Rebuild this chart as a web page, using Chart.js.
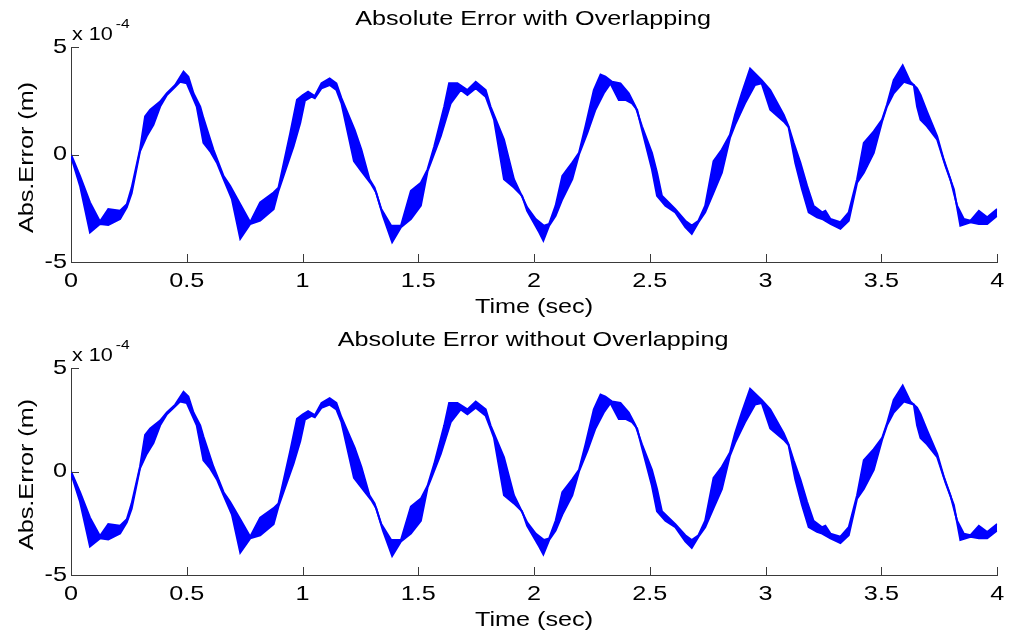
<!DOCTYPE html>
<html>
<head>
<meta charset="utf-8">
<script src="https://cdn.jsdelivr.net/npm/chart.js@4.4.1/dist/chart.umd.min.js"></script>
<style>
  html, body { margin: 0; padding: 0; background: #ffffff; }
  #wrap { position: relative; width: 1010px; height: 634px; overflow: hidden; }
  canvas { position: absolute; left: 0; }
</style>
</head>
<body>
<div id="wrap">
  <canvas id="c1" width="1010" height="317" style="top:0px"></canvas>
  <canvas id="c2" width="1010" height="317" style="top:317px"></canvas>
</div>
<script>
// ---------- data (values in units of 1e-4 m) ----------
const upperT = [0.000,0.039,0.082,0.125,0.161,0.212,0.241,0.262,0.298,0.320,0.342,0.385,0.414,0.450,0.486,0.507,0.529,0.558,0.572,0.615,0.659,0.687,0.731,0.774,0.817,0.875,0.896,0.947,0.976,
  1.000,1.024,1.053,1.082,1.117,1.146,1.168,1.225,1.254,1.289,1.311,1.340,1.383,1.425,1.468,1.511,1.540,1.569,1.612,1.633,1.669,1.712,1.748,1.791,1.812,1.870,1.913,1.970,
  2.007,2.043,2.065,2.093,2.122,2.165,2.194,2.222,2.258,2.287,2.308,2.337,2.373,2.409,2.438,2.466,2.509,2.531,2.552,2.610,2.653,2.681,2.710,2.739,2.775,2.811,2.846,2.868,2.897,2.933,2.983,
  3.020,3.078,3.099,3.121,3.150,3.179,3.207,3.244,3.258,3.280,3.323,3.359,3.395,3.424,3.467,3.503,3.524,3.553,3.592,3.625,3.654,3.669,3.697,3.741,3.769,3.798,3.827,3.856,3.885,3.921,3.957,4.000];
const upperV = [0.00,-1.00,-2.23,-3.12,-2.54,-2.62,-2.31,-1.54,0.23,1.77,2.08,2.46,2.85,3.23,3.85,3.62,2.85,2.23,1.69,0.23,-1.00,-1.46,-2.31,-3.15,-2.23,-1.77,-1.54,1.00,2.54,
  2.75,2.92,2.72,3.31,3.54,3.31,2.62,1.15,0.23,-1.15,-1.54,-2.54,-3.31,-3.31,-1.69,-1.31,-0.69,0.38,2.23,3.31,3.31,3.00,3.38,3.00,2.23,0.69,-1.15,-2.46,
  -3.00,-3.31,-3.23,-2.38,-1.00,-0.38,0.08,1.31,3.00,3.72,3.62,3.38,3.31,2.85,2.23,1.31,0.08,-0.85,-1.92,-2.54,-3.08,-3.31,-3.08,-2.38,-0.31,0.23,0.92,1.85,2.85,4.00,3.46,
  3.00,1.85,1.31,0.54,-0.38,-1.46,-2.38,-2.69,-2.62,-3.00,-3.15,-2.69,-1.15,0.54,1.08,1.62,2.31,3.46,4.15,3.38,3.08,2.77,2.00,0.85,-0.23,-1.15,-2.38,-3.00,-3.08,-2.62,-2.92,-2.54];
const lowerT = [0.000,0.039,0.082,0.125,0.161,0.212,0.241,0.262,0.298,0.327,0.356,0.385,0.414,0.450,0.471,0.500,0.543,0.572,0.601,0.630,0.659,0.695,0.731,0.774,0.817,0.875,0.896,0.932,0.961,0.990,
  1.010,1.039,1.053,1.082,1.117,1.146,1.168,1.222,1.254,1.297,1.318,1.347,1.387,1.425,1.468,1.511,1.540,1.554,1.597,1.640,1.683,1.712,1.748,1.791,1.812,1.827,1.870,1.913,1.948,1.970,
  2.022,2.040,2.065,2.093,2.122,2.165,2.194,2.230,2.265,2.301,2.330,2.337,2.366,2.395,2.423,2.445,2.466,2.509,2.531,2.567,2.610,2.653,2.681,2.710,2.739,2.775,2.811,2.846,2.868,2.911,2.954,2.983,
  3.020,3.078,3.099,3.128,3.157,3.186,3.222,3.244,3.280,3.323,3.359,3.395,3.424,3.467,3.503,3.524,3.553,3.597,3.640,3.654,3.669,3.697,3.741,3.777,3.813,3.841,3.885,3.921,3.957,4.000];
const lowerV = [-0.08,-1.46,-3.62,-3.23,-3.28,-3.00,-2.46,-1.80,0.15,0.85,1.38,2.23,2.77,3.15,3.38,3.31,2.23,0.54,0.15,-0.38,-1.15,-2.08,-3.92,-3.23,-3.08,-2.54,-1.69,-0.54,0.38,1.46,
  2.50,2.69,2.62,3.08,3.23,3.00,2.38,-0.31,-0.77,-1.38,-1.77,-2.85,-4.08,-3.38,-3.00,-2.38,-0.77,-0.38,0.85,2.38,3.00,2.77,3.08,2.69,2.08,1.62,-1.15,-1.54,-1.92,-2.62,
  -3.62,-4.00,-3.31,-2.85,-2.08,-1.15,0.00,1.00,2.08,2.85,3.31,3.15,2.54,2.54,2.38,2.08,1.15,-0.69,-1.92,-2.38,-2.69,-3.38,-3.69,-3.15,-2.69,-1.77,-0.85,0.77,1.38,2.38,3.23,3.31,
  2.08,1.54,1.28,-0.38,-1.62,-2.69,-2.92,-3.00,-3.23,-3.46,-3.08,-1.31,-0.85,0.08,1.54,2.23,2.85,3.38,3.23,2.23,1.62,1.31,0.69,-0.54,-1.62,-3.31,-3.15,-3.23,-3.23,-2.85];

const xTickValues = [0, 0.5, 1, 1.5, 2, 2.5, 3, 3.5, 4];
const xTickLabels = ['0', '0.5', '1', '1.5', '2', '2.5', '3', '3.5', '4'];
const yTickValues = [-5, 0, 5];
const yTickLabels = ['-5', '0', '5'];

const panelTitles = ['Absolute Error with Overlapping', 'Absolute Error without Overlapping'];
const xAxisTitle = 'Time (sec)';
const yAxisTitle = 'Abs.Error (m)';
const expBase = 'x 10';
const expPower = '-4';

// ---------- style ----------
const FONT = '"Liberation Sans", Arial, Helvetica, sans-serif';
const BLUE = '#0000ff';
const AXIS = '#3a3a3a';
const SX = 1.2; // horizontal stretch of the reference's text

Chart.defaults.font.family = FONT;
Chart.defaults.color = '#000';

function makePanel(canvasId, title, areaTop, areaBottom) {
  const H = 317;
  const stretchPlugin = {
    id: 'stretch_' + canvasId,
    beforeDraw(chart) {
      const ctx = chart.ctx;
      if (!ctx._origFillText) {
        ctx._origFillText = ctx.fillText;
        ctx.fillText = function (text, x, y) {
          this.save();
          this.translate(x, y);
          this.scale(SX, 1);
          this._origFillText(text, 0, 0);
          this.restore();
        };
      }
    },
    afterDraw(chart) {
      const ctx = chart.ctx;
      const a = chart.chartArea;
      const xs = chart.scales.x, ys = chart.scales.y;
      // inward tick marks
      ctx.save();
      ctx.strokeStyle = AXIS;
      ctx.lineWidth = 1;
      ctx.beginPath();
      xs.ticks.forEach(t => {
        const px = Math.round(xs.getPixelForValue(t.value)) + 0.5;
        ctx.moveTo(px, a.bottom);
        ctx.lineTo(px, a.bottom - 8);
      });
      ys.ticks.forEach(t => {
        const py = Math.round(ys.getPixelForValue(t.value)) + 0.5;
        ctx.moveTo(a.left, py);
        ctx.lineTo(a.left + 8, py);
      });
      ctx.stroke();
      ctx.restore();

      ctx.save();
      ctx.fillStyle = '#000';
      // panel title
      ctx.font = '21px ' + FONT;
      ctx.textAlign = 'center';
      ctx.textBaseline = 'alphabetic';
      ctx.fillText(title, (a.left + a.right) / 2 - 1, a.top - 22);
      // x axis title
      ctx.fillText(xAxisTitle, (a.left + a.right) / 2, a.bottom + 51);
      // exponent label
      ctx.textAlign = 'left';
      ctx.font = '18px ' + FONT;
      const bx = a.left + 1;
      ctx.fillText(expBase, bx, a.top - 7);
      const w = ctx.measureText(expBase).width * SX;
      ctx.font = '13px ' + FONT;
      ctx.fillText(expPower, bx + w + 3, a.top - 19);
      // y axis title (rotated)
      ctx.font = '21px ' + FONT;
      ctx.textAlign = 'center';
      ctx.translate(33, (a.top + a.bottom) / 2 + 3);
      ctx.rotate(-Math.PI / 2);
      ctx.fillText(yAxisTitle, 0, 0);
      ctx.restore();

      if (ctx._origFillText) {
        ctx.fillText = ctx._origFillText;
        delete ctx._origFillText;
      }
    }
  };

  return new Chart(document.getElementById(canvasId), {
    type: 'line',
    data: {
      datasets: [
        {
          label: 'upper',
          data: upperT.map((t, i) => ({ x: t, y: upperV[i] })),
          borderColor: BLUE,
          backgroundColor: BLUE,
          borderWidth: 2,
          pointRadius: 0,
          tension: 0,
          fill: '+1'
        },
        {
          label: 'lower',
          data: lowerT.map((t, i) => ({ x: t, y: lowerV[i] })),
          borderColor: BLUE,
          backgroundColor: BLUE,
          borderWidth: 2,
          pointRadius: 0,
          tension: 0,
          fill: false
        }
      ]
    },
    options: {
      responsive: false,
      animation: false,
      devicePixelRatio: 1,
      events: [],
      layout: { padding: { left: 0, right: 11, top: areaTop, bottom: 0 } },
      plugins: {
        legend: { display: false },
        tooltip: { enabled: false },
        title: { display: false }
      },
      scales: {
        x: {
          type: 'linear',
          position: 'bottom',
          min: 0,
          max: 4,
          grid: { display: true, drawOnChartArea: false, drawTicks: false },
          border: { display: true, color: AXIS, width: 1 },
          ticks: {
            padding: 7,
            color: '#000',
            font: { size: 21 },
            maxRotation: 0,
            autoSkip: false,
            callback: (v) => { const i = xTickValues.indexOf(v); return i >= 0 ? xTickLabels[i] : ''; }
          },
          afterBuildTicks: (s) => { s.ticks = xTickValues.map(v => ({ value: v })); },
          afterFit: (s) => { s.height = H - areaBottom; }
        },
        y: {
          type: 'linear',
          position: 'left',
          min: -5,
          max: 5,
          grid: { display: true, drawOnChartArea: false, drawTicks: false },
          border: { display: true, color: AXIS, width: 1 },
          ticks: {
            padding: 4,
            color: '#000',
            font: { size: 21 },
            callback: (v) => { const i = yTickValues.indexOf(v); return i >= 0 ? yTickLabels[i] : ''; }
          },
          afterBuildTicks: (s) => { s.ticks = yTickValues.map(v => ({ value: v })); },
          afterFit: (s) => { s.width = 71; }
        }
      }
    },
    plugins: [stretchPlugin]
  });
}

makePanel('c1', panelTitles[0], 47, 262);
makePanel('c2', panelTitles[1], 51, 258);
</script>
</body>
</html>
